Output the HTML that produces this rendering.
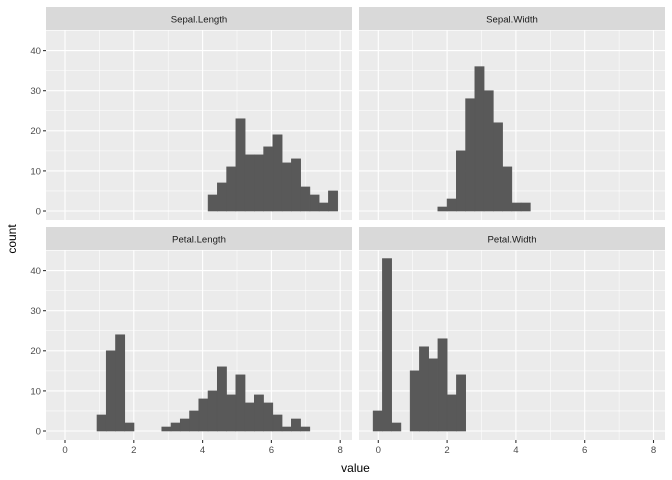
<!DOCTYPE html>
<html><head><meta charset="utf-8"><style>
body{margin:0;background:#fff}
svg{display:block;font-family:"Liberation Sans",sans-serif}
</style></head><body>
<svg id="chart" width="672" height="480" viewBox="0 0 672 480" xmlns="http://www.w3.org/2000/svg"></svg>
<script>
const panelNames = ["Sepal.Length","Sepal.Width","Petal.Length","Petal.Width"];
const binStarts = [4.16, 1.73, 0.93, -0.15];
const binWidth = 0.269;
const sepalLengthCounts = [4,7,11,23,14,14,16,19,12,13,6,4,2,5];
const sepalWidthCounts = [1,3,15,28,36,30,22,11,2,2];
const petalLengthCounts = [4,20,24,2,0,0,0,1,2,3,5,8,10,16,9,14,7,9,7,4,1,3,1];
const petalWidthCounts = [5,43,2,0,15,21,18,23,9,14];
const xTicks = [0,2,4,6,8];
const yTicks = [0,10,20,30,40];

const allCounts=[sepalLengthCounts,sepalWidthCounts,petalLengthCounts,petalWidthCounts];
const svg=document.getElementById('chart');
const NS='http://www.w3.org/2000/svg';
function mk(tag,attrs,parent){const e=document.createElementNS(NS,tag);for(const k in attrs)e.setAttribute(k,attrs[k]);(parent||svg).appendChild(e);return e;}
const cols=[{x0:46,x1:352,z:65},{x0:359,x1:665,z:378.3}];
const rows=[{s0:7,p0:30,p1:220,z:211},{s0:227,p0:250,p1:440,z:431}];
const pxU=34.4, pxC=4.01;
for(let i=0;i<4;i++){
  const c=cols[i%2], r=rows[Math.floor(i/2)];
  const xs=v=>c.z+v*pxU, ys=v=>r.z-v*pxC;
  const g=mk('g',{});
  
  
  const strip=mk('rect',{x:c.x0,y:r.s0,width:c.x1-c.x0,height:r.p0-r.s0,fill:'#d9d9d9'},g);
  
  
  const st=mk('text',{x:(c.x0+c.x1)/2,y:r.s0+15.5,'text-anchor':'middle','font-size':'9.6',fill:'#1a1a1a'},g);
  st.textContent=panelNames[i];
  
  
  const bg=mk('rect',{x:c.x0,y:r.p0,width:c.x1-c.x0,height:r.p1-r.p0,fill:'#ebebeb'},g);
  
  
  for(let k=0;k<xTicks.length-1;k++){const v=(xTicks[k]+xTicks[k+1])/2;mk('line',{x1:xs(v),x2:xs(v),y1:r.p0,y2:r.p1,stroke:'#fff','stroke-width':0.55},g);}
  for(let k=0;k<yTicks.length;k++){const v=yTicks[k]+5;if(ys(v)>r.p0)mk('line',{x1:c.x0,x2:c.x1,y1:ys(v),y2:ys(v),stroke:'#fff','stroke-width':0.55},g);}
  xTicks.forEach(v=>mk('line',{x1:xs(v),x2:xs(v),y1:r.p0,y2:r.p1,stroke:'#fff','stroke-width':1.1},g));
  yTicks.forEach(v=>mk('line',{x1:c.x0,x2:c.x1,y1:ys(v),y2:ys(v),stroke:'#fff','stroke-width':1.1},g));
  allCounts[i].forEach((n,k)=>{
    if(!n)return;
    const a=binStarts[i]+k*binWidth;
    const b=mk('rect',{x:xs(a),y:ys(n),width:xs(a+binWidth)-xs(a),height:ys(0)-ys(n),fill:'#595959',stroke:'#595959','stroke-width':0.6},g);
    
    
  });
  if(i%2===0){
    yTicks.forEach(v=>{
      mk('line',{x1:c.x0-3,x2:c.x0,y1:ys(v),y2:ys(v),stroke:'#333','stroke-width':1.1});
      const t=mk('text',{x:c.x0-5,y:ys(v)+3.4,'text-anchor':'end','font-size':'9.6',fill:'#4d4d4d'});
      t.textContent=v;
      
      
    });
  }
  if(i>=2){
    xTicks.forEach(v=>{
      mk('line',{x1:xs(v),x2:xs(v),y1:r.p1,y2:r.p1+3,stroke:'#333','stroke-width':1.1});
      const t=mk('text',{x:xs(v),y:r.p1+13,'text-anchor':'middle','font-size':'9.6',fill:'#4d4d4d'});
      t.textContent=v;
      
      
    });
  }
}
const xt=mk('text',{x:355.5,y:472,'text-anchor':'middle','font-size':'12',fill:'#000'});
xt.textContent='value';


const yt=mk('text',{x:0,y:0,transform:'translate(16,239) rotate(-90)','text-anchor':'middle','font-size':'12',fill:'#000'});
yt.textContent='count';


</script>
</body></html>
